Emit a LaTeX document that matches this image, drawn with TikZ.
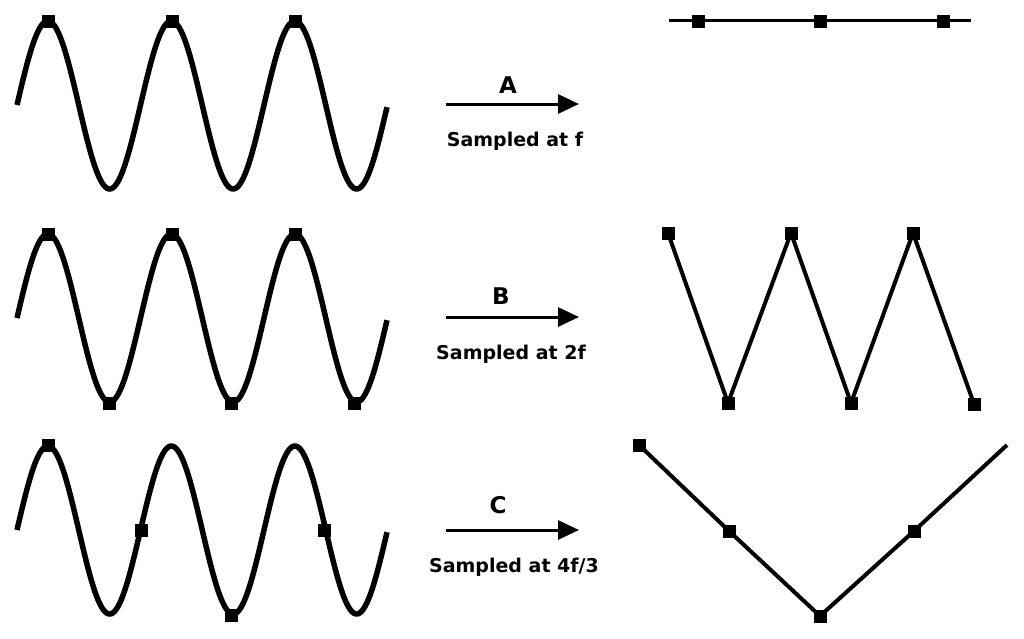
\documentclass[tikz,border=0pt]{standalone}
\usepackage{fontspec}
\setmainfont{DejaVu Sans}
\usetikzlibrary{arrows.meta}
\begin{document}
\begin{tikzpicture}[x=1pt,y=-1pt,
  wave/.style={line width=5.5pt},
  seg/.style={line width=4pt},
  flat/.style={line width=3pt},
  mk/.style={fill=black,draw=none,minimum size=13pt,inner sep=0pt,outer sep=0pt},
  arr/.style={line width=3pt,-{Triangle[length=21pt,width=19pt]}},
  big/.style={font=\fontsize{23}{25}\selectfont\bfseries},
  small/.style={font=\fontsize{19}{21}\selectfont\bfseries}]
\useasboundingbox (0,0) rectangle (1024,638);
% waves
\foreach \c in {105,318,530}{
  \draw[wave] plot[domain=17:387,samples=240,smooth] (\x,{\c-84*sin(2.91498*(\x-17))});
}
% row 1 wave markers
\node[mk] (a1) at (48,21) {};
\node[mk] (a2) at (172,21) {};
\node[mk] (a3) at (295,21) {};
% row 2 wave markers
\node[mk] (b1) at (48,234) {};
\node[mk] (b2) at (109,403) {};
\node[mk] (b3) at (172,234) {};
\node[mk] (b4) at (231,403) {};
\node[mk] (b5) at (295,234) {};
\node[mk] (b6) at (354,403) {};
% row 3 wave markers
\node[mk] (c1) at (48,445) {};
\node[mk] (c2) at (141,530) {};
\node[mk] (c3) at (231,615) {};
\node[mk] (c4) at (324,530) {};
% arrows and labels
\coordinate (sA) at (446,104); \coordinate (eA) at (579,104);
\coordinate (sB) at (446,317); \coordinate (eB) at (579,317);
\coordinate (sC) at (446,530); \coordinate (eC) at (579,530);
\draw[arr] (sA) -- (eA);
\draw[arr] (sB) -- (eB);
\draw[arr] (sC) -- (eC);
\node[big] (lA) at (508,85) {A};
\node[big] (lB) at (501,296) {B};
\node[big] (lC) at (498,505) {C};
\node[small] (tA) at (515,141) {Sampled at f};
\node[small] (tB) at (511,354) {Sampled at 2f};
\node[small] (tC) at (514,567) {Sampled at 4f/3};
% row 1 result
\coordinate (rA0) at (669,20); \coordinate (rA4) at (971,20);
\draw[flat] (rA0) -- (rA4);
\node[mk] (rA1) at (698,21) {};
\node[mk] (rA2) at (820,21) {};
\node[mk] (rA3) at (943,21) {};
% row 2 result
\node[mk] (rB1) at (668,233) {};
\node[mk] (rB2) at (728,403) {};
\node[mk] (rB3) at (791,233) {};
\node[mk] (rB4) at (851,403) {};
\node[mk] (rB5) at (913,233) {};
\node[mk] (rB6) at (974,404) {};
\draw[seg,line join=miter] (rB1.center) -- (rB2.center) -- (rB3.center) -- (rB4.center) -- (rB5.center) -- (rB6.center);
% row 3 result
\node[mk] (rC1) at (639,445) {};
\node[mk] (rC2) at (729,531) {};
\node[mk] (rC3) at (820,616) {};
\node[mk] (rC4) at (914,531) {};
\coordinate (rC5) at (1007,445);
\draw[seg] (rC1.center) -- (rC2.center) -- (rC3.center) -- (rC4.center) -- (rC5);
\end{tikzpicture}
\end{document}
